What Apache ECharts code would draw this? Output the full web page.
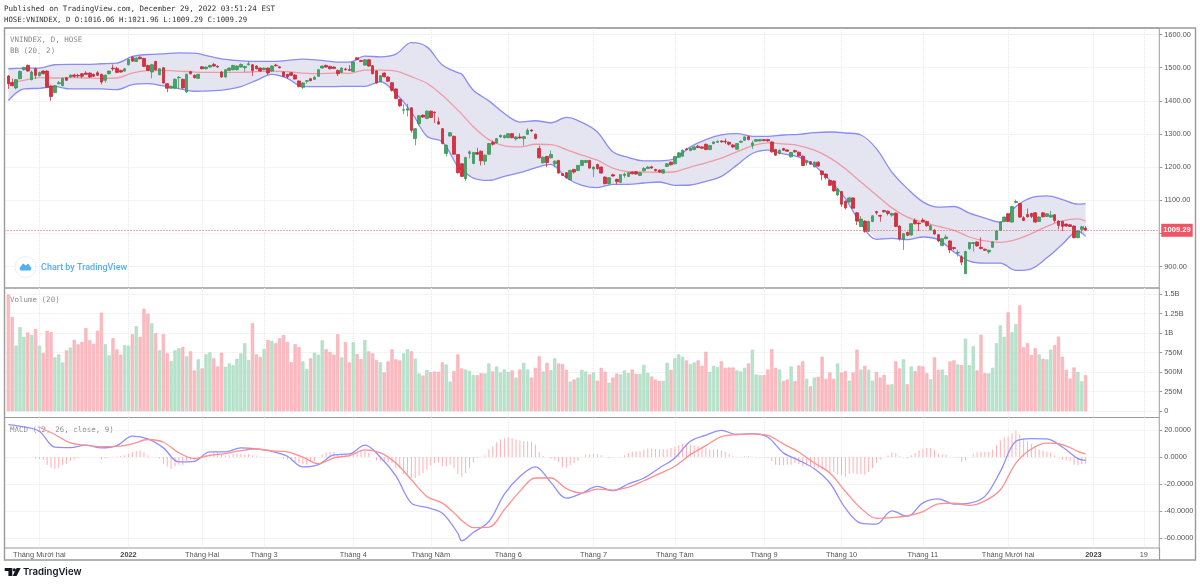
<!DOCTYPE html>
<html>
<head>
<meta charset="utf-8">
<title>VNINDEX</title>
<script src="https://cdn.jsdelivr.net/npm/echarts@6/dist/echarts.min.js"></script>
<style>
html, body { margin: 0; padding: 0; background: #fff; }
#main { width: 1200px; height: 584px; }
</style>
</head>
<body>
<div id="main"></div>
<script>
var opens = [
1475,1455,1439,1467,1494,1507,1464,1497,1476,1490,
1490,1445,1425,1452,1446,1470,1472,1478,1477,1482,
1484,1484,1480,1485,1480,1462,1482,1499,1498,1492,
1490,1509,1532,1519,1532,1528,1507,1487,1519,1479,
1500,1452,1438,1438,1470,1465,1427,1488,1477,1468,
1503,1497,1502,1510,1504,1487,1472,1492,1494,1494,
1502,1500,1509,1509,1505,1499,1494,1499,1490,1508,
1503,1487,1480,1485,1478,1460,1441,1459,1467,1465,
1474,1499,1507,1504,1502,1492,1486,1496,1495,1489,
1530,1522,1508,1524,1506,1490,1458,1484,1472,1455,
1436,1404,1372,1372,1379,1286,1331,1357,1347,1369,
1366,1337,1316,1241,1294,1293,1238,1210,1165,1241,
1211,1244,1248,1218,1239,1275,1273,1291,1289,1289,
1301,1285,1291,1286,1299,1312,1299,1256,1213,1232,
1228,1210,1220,1180,1183,1162,1193,1190,1205,1214,
1220,1194,1208,1200,1170,1150,1177,1163,1154,1175,
1172,1185,1186,1175,1189,1196,1201,1193,1191,1182,
1202,1215,1210,1230,1233,1255,1250,1253,1263,1261,
1269,1253,1271,1275,1279,1278,1275,1267,1254,1275,
1281,1292,1266,1278,1279,1283,1283,1276,1253,1241,
1256,1252,1231,1250,1245,1233,1213,1216,1201,1215,
1188,1179,1160,1158,1116,1126,1097,1095,1107,1062,
1021,1037,1006,1036,1066,1054,1069,1067,1055,1061,
1022,982,1003,995,1039,1031,1040,1036,1011,1010,
996,963,984,977,957,941,929,878,954,969,
974,958,952,944,958,981,1009,1036,1059,1034,
1093,1090,1047,1057,1060,1062,1036,1062,1051,1049,
1056,1037,1036,1028,1026,1022,987,1012,1016.06
];
var closes = [
1452,1446,1464,1489,1501,1490,1487,1477,1486,1482,
1441,1413,1446,1455,1468,1462,1478,1474,1475,1474,
1480,1472,1474,1477,1457,1477,1490,1497,1486,1487,
1497,1525,1520,1529,1527,1504,1492,1509,1494,1497,
1454,1438,1444,1465,1471,1439,1480,1482,1470,1480,
1497,1502,1507,1505,1502,1472,1494,1499,1507,1505,
1510,1504,1512,1492,1497,1490,1499,1484,1505,1506,
1500,1474,1472,1477,1466,1443,1454,1461,1461,1471,
1494,1505,1502,1497,1498,1482,1499,1494,1492,1517,
1525,1519,1524,1505,1482,1454,1476,1473,1459,1432,
1407,1385,1373,1376,1311,1316,1355,1351,1369,1350,
1364,1330,1271,1266,1304,1239,1183,1172,1229,1246,
1244,1239,1219,1236,1271,1269,1286,1296,1295,1301,
1289,1291,1288,1292,1311,1309,1286,1228,1230,1214,
1238,1218,1182,1175,1168,1190,1185,1205,1220,1220,
1197,1200,1195,1182,1150,1168,1173,1156,1177,1179,
1183,1180,1179,1183,1196,1200,1197,1189,1185,1192,
1210,1207,1232,1243,1251,1253,1257,1261,1259,1257,
1253,1265,1276,1278,1276,1276,1269,1261,1271,1278,
1291,1283,1273,1283,1283,1280,1279,1246,1236,1251,
1251,1248,1244,1246,1234,1205,1219,1209,1215,1203,
1177,1168,1145,1128,1134,1088,1077,1107,1076,1037,
1043,1006,1036,1053,1062,1052,1065,1060,1060,1021,
984,999,994,1029,1029,1029,1035,1023,1023,998,
977,984,989,950,954,942,913,945,972,972,
962,954,949,949,974,1007,1034,1049,1036,1081,
1096,1049,1039,1050,1051,1034,1049,1050,1059,1055,
1039,1024,1021,1022,1021,987,1007,1020,1009.29
];
var highs = [
1478,1467,1466,1492,1503,1510,1492,1500,1488,1492,
1492,1447,1448,1460,1470,1472,1480,1482,1482,1484,
1490,1486,1482,1490,1482,1480,1491,1510,1503,1494,
1499,1528,1534,1532,1535,1530,1509,1512,1521,1499,
1502,1454,1446,1468,1475,1467,1482,1491,1480,1482,
1505,1504,1509,1515,1508,1490,1496,1501,1509,1507,
1513,1506,1520,1511,1507,1501,1501,1501,1507,1512,
1505,1489,1482,1487,1480,1462,1456,1463,1469,1476,
1496,1507,1510,1506,1504,1495,1501,1500,1508,1519,
1532,1524,1526,1526,1508,1492,1478,1486,1474,1457,
1438,1406,1390,1391,1381,1318,1357,1359,1371,1371,
1368,1350,1318,1268,1306,1295,1240,1212,1231,1250,
1246,1258,1250,1238,1273,1280,1288,1298,1298,1303,
1303,1293,1302,1294,1317,1314,1301,1265,1232,1234,
1250,1220,1222,1182,1185,1192,1195,1207,1222,1222,
1222,1202,1210,1202,1172,1170,1180,1165,1179,1183,
1185,1187,1188,1185,1200,1203,1204,1195,1193,1194,
1212,1217,1234,1245,1253,1258,1259,1263,1267,1263,
1271,1267,1278,1280,1281,1286,1277,1269,1273,1280,
1293,1294,1280,1285,1285,1285,1285,1278,1255,1253,
1258,1254,1246,1252,1247,1235,1221,1218,1217,1217,
1190,1181,1162,1160,1137,1128,1099,1110,1109,1064,
1052,1039,1038,1055,1068,1056,1071,1069,1062,1063,
1024,1001,1005,1031,1045,1033,1046,1038,1027,1012,
998,986,996,979,959,950,934,947,974,974,
976,988,954,951,976,1009,1036,1051,1061,1083,
1102,1092,1052,1075,1062,1064,1051,1064,1061,1068,
1058,1039,1038,1030,1028,1024,1009,1022,1021.96
];
var lows = [
1436,1444,1435,1465,1492,1488,1462,1467,1474,1480,
1440,1400,1423,1450,1444,1460,1470,1470,1470,1468,
1478,1470,1472,1475,1450,1455,1480,1490,1484,1485,
1488,1507,1518,1517,1525,1502,1490,1468,1492,1477,
1452,1426,1436,1436,1437,1437,1424,1480,1468,1466,
1495,1495,1500,1503,1500,1470,1470,1490,1492,1492,
1500,1488,1507,1475,1495,1488,1492,1478,1488,1504,
1498,1472,1466,1475,1464,1441,1436,1452,1459,1463,
1472,1497,1500,1495,1496,1475,1484,1492,1490,1487,
1523,1517,1506,1503,1480,1452,1456,1471,1457,1428,
1405,1382,1360,1353,1304,1266,1325,1349,1345,1348,
1333,1328,1269,1232,1292,1237,1181,1170,1158,1226,
1209,1237,1205,1206,1237,1265,1271,1289,1286,1287,
1287,1280,1286,1265,1297,1307,1284,1226,1211,1200,
1226,1200,1180,1173,1166,1160,1180,1188,1203,1212,
1195,1170,1193,1180,1148,1148,1171,1148,1152,1168,
1170,1178,1177,1173,1187,1194,1195,1187,1183,1180,
1200,1205,1208,1228,1231,1251,1248,1251,1257,1255,
1251,1251,1269,1273,1274,1270,1265,1257,1252,1273,
1279,1281,1255,1276,1277,1278,1277,1244,1234,1238,
1249,1246,1229,1244,1232,1203,1205,1207,1199,1201,
1160,1162,1143,1126,1112,1080,1072,1093,1074,1025,
1019,1002,1004,1034,1056,1035,1063,1054,1050,1019,
978,950,992,993,1027,1007,1033,1020,1009,996,
973,961,982,940,950,930,904,878,950,945,
960,952,947,938,956,979,1007,1034,1034,1032,
1091,1047,1037,1048,1046,1032,1034,1048,1049,1047,
1032,1012,1007,1020,1019,985,985,1000,1009.29
];
var volumes = [
1496,1207,840,1078,953,1009,978,1052,840,746,
1030,1013,690,728,625,780,815,914,858,888,
1065,909,862,1030,1263,858,715,935,793,724,
845,840,987,1090,953,1315,1250,1129,1000,780,
987,741,642,780,806,823,703,767,522,664,
547,728,754,677,573,750,569,612,590,672,
741,871,655,1129,728,694,797,914,901,871,
935,978,888,629,858,819,638,539,677,750,
724,909,793,759,724,987,690,884,625,884,
733,668,914,767,741,655,629,496,638,793,
664,651,741,793,767,672,483,457,530,500,
509,504,625,599,379,513,728,547,534,517,
461,461,487,483,612,509,573,496,534,504,
522,431,534,621,534,431,556,703,509,621,
526,677,612,603,530,379,405,431,530,509,
470,496,392,556,504,366,431,483,470,522,
487,534,478,478,595,491,444,405,388,388,
621,530,677,728,698,651,603,625,651,582,
763,504,582,565,638,556,560,560,522,509,
556,612,789,470,461,461,534,793,556,534,
388,405,573,384,586,638,414,319,431,440,
698,414,496,414,612,496,513,392,496,789,
534,582,530,392,504,431,465,340,345,638,
547,664,345,573,513,582,573,487,409,690,
530,534,461,638,651,599,590,931,590,832,
522,978,487,483,556,871,1099,953,1267,1013,
1116,1358,819,871,720,806,728,672,664,789,
845,957,698,530,418,560,504,384,461
];
var histogram = [
null,null,null,null,null,null,null,
-1,-1.5,-2,-6,-8,-8.7,-8,-6,-5,-3,
-1.7,-.7,-.3,0,0,0,0,-1.7,-1,-.5,
.2,.5,.7,1.2,2.2,3.7,4.2,4.7,3.5,1.2,
0,0,-1.2,-5.2,-7,-9,-7,-5.7,-6.4,-3.2,
-2,-2,-.7,.5,1.2,2.2,3.5,3.7,1.7,1.2,
1.2,2.2,2.5,2.2,1.7,2.2,1,.5,.2,-.2,
0,-.2,0,0,-1.2,-2,-3.2,-4,-4.5,-5.2,
-5.7,-3.2,-3.2,-.2,1.7,3.2,3.7,3.7,2.2,2.2,
1.7,2.2,2.7,3.7,4.7,4.7,3,0,-2.7,-3.2,
-3.2,-3.7,-4.5,-8.2,
-8.2,-12.6,-13,-15.6,-15.6,-13.9,-11.9,-9.4,-6.2,-4.5,
-3.7,-6.9,-6.9,-5.7,-8.2,-12.6,-14.9,-11.9,-8.2,-4,
-.7,.2,1.2,5.5,7.9,10.9,12.9,13.6,14.6,14.1,
12.9,12.1,11.6,11.6,11.2,9.2,3.7,.7,0,-1.2,
-2,-3.7,-7.7,-8.2,-6.2,-4.5,-2.7,0,1.7,2,
2.2,2.2,1.2,0,-.7,-.2,0,.2,1.2,3,
3.7,4.2,4.2,5.5,6.2,6.2,5.9,5.7,5.7,5.7,
6.7,7.4,8.7,9.7,9.7,9.2,8.7,7.9,7.4,6.7,
5.5,5.5,5.5,4.7,3.7,2.2,.5,.2,.2,.5,
.7,.2,-.2,-.5,-.5,-.7,-3.2,-5.7,-6.2,-6.2,
-5.7,-5.7,-4.5,-5.2,
-6.9,-6.4,-7.4,-7.7,-8.2,-9.4,-10.2,-11.2,-11.2,-12.6,
-13.6,-14.4,-12.6,-12.1,-12.6,-12.6,-13.1,-11.2,-8.2,-4.5,
-2,0,1.2,3.5,2.7,.5,-.2,-1.2,1.2,3,
4.7,5.9,6.7,6.7,5,2.2,1.7,1.7,0,-.5,
-.7,-3.7,-2.5,0,2.2,3.7,3.7,3.7,4,5.5,
8.4,12.1,14.6,15.1,17.8,19.6,16.6,13.6,11.6,9.7,
7.2,5.5,4.7,3.7,3,1,0,-2,-2.5,-3.2,
-5.7,-6.2,-5.2,-5
];

var lineBars = [
0,4,8,12,16,20,24,28,32,36,
40,44,48,52,56,60,64,68,72,76,
80,84,88,92,96,100,104,108,112,116,117,
120,124,128,132,136,140,144,148,152,156,
160,164,168,172,176,180,184,188,192,196,
200,204,208,212,216,220,224,228,232,236,
240,244,248,252,256,260,264,268,272,276,278
];
var bbUpper = [
1497,1499,1499,1509,1510,1510,1512,1514,1534,1540,
1542,1545,1544,1534,1525,1521,1519,1519,1522,1526,
1523,1518,1517,1535,1533,1541,1576,1563,1508,1485,1481,
1432,1400,1362,1336,1340,1334,1350,1335,1306,1246,
1229,1219,1219,1226,1261,1283,1297,1301,1293,1293,
1297,1299,1304,1306,1303,1297,1256,1185,1135,1095,
1079,1081,1061,1046,1034,1081,1108,1113,1102,1088,1090
];
var bbMiddle = [
1452,1462,1470,1469,1470,1469,1468,1469,1484,1491,
1492,1490,1487,1486,1486,1486,1488,1490,1488,1484,
1482,1484,1483,1493,1493,1490,1473,1453,1417,1372,1360,
1322,1283,1264,1261,1269,1268,1253,1236,1221,1197,
1186,1185,1184,1186,1200,1213,1227,1246,1264,1273,
1270,1265,1251,1228,1195,1155,1116,1077,1049,1034,
1021,1009,989,977,973,981,999,1021,1038,1044,1037
];
var bbLower = [
1401,1436,1438,1443,1436,1436,1436,1434,1449,1452,
1445,1437,1429,1430,1434,1443,1462,1480,1468,1443,
1443,1443,1444,1444,1458,1422,1367,1293,1276,1201,1192,
1167,1160,1172,1183,1198,1208,1168,1145,1138,1148,
1148,1152,1155,1145,1146,1157,1172,1206,1241,1251,
1240,1230,1205,1160,1105,1029,982,985,981,989,
981,944,916,910,910,888,893,926,967,1007,991
];
var macdLine = [
24,22.3,19,7.2,6.9,8.7,6.7,8.4,15.4,13.4,
6.7,-3.7,-3.2,3.7,3.7,6.7,5.9,4.2,.5,-7.4,
-5.7,1.5,2.2,8.7,-.2,-14,-34.2,-37.4,-41.6,-56.5,-62,
-55.8,-47.8,-27.5,-14.4,-7.4,-18.8,-30.5,-26.8,-21.8,-25,
-20,-15.6,-8.2,-.7,11.6,16.1,19.6,16.6,17.3,14.6,
3,-2.5,-8.7,-19.3,-37.9,-49,-49.8,-39.9,-44,-34,
-31,-34.9,-34.2,-29.2,-10.7,11.6,13.6,13.4,7.4,-1.2,-2.5
];
var signalLine = [
null,null,22,16.6,10.4,8.7,7.7,7.9,9.7,12.9,
10.9,3,-1.2,1.2,2.5,4.7,5.9,4.5,3.7,-.2,
-5,-.7,1,5.2,3,-4.5,-16.9,-29.2,-34.2,-44.1,-47,
-52.3,-52,-39,-25.5,-15.6,-15.6,-23.5,-26.8,-23.8,-24.5,
-22.3,-17.6,-12.4,-6.9,1.7,8.4,15.1,16.6,17.1,15.9,
9.7,3.5,-4.5,-11.9,-25.5,-37.9,-45.4,-44.9,-43.6,-40.4,
-34.7,-34.2,-35.9,-32.5,-24.3,-4.5,5.9,10.2,9.2,4.2,2.2
];

// month marks on the time axis: bar number and text
var monthBars = [8,31,50,66,89,109,129,151,172,195,215,236,258,280,293];
var monthLabels = ['Tháng Mười hai','2022','Tháng Hai','Tháng 3','Tháng 4','Tháng Năm','Tháng 6','Tháng 7','Tháng Tám','Tháng 9','Tháng 10','Tháng 11','Tháng Mười hai','2023','19'];
var priceTicks = [900,1000,1100,1200,1300,1400,1500,1600];
var volumeTicks = [0,250,500,750,1000,1250,1500];
var volumeLabels = ['0','250M','500M','750M','1B','1.25B','1.5B'];
var macdTicks = [-60,-40,-20,0,20];

// one empty slot before the first bar, the rest of the slots run past the last bar
var BAR_SLOTS = 299;
var LEAD = 1;
var FONT = '"Liberation Sans", Arial, sans-serif';
var MONO = '"DejaVu Sans Mono", monospace';
var AXIS_COLOR = '#555';
var FRAME = '#9a9a9a';
var GRID_LINE = '#e9e9e9';

var categories = [];
for (var s = 0; s < BAR_SLOTS; s++) categories.push(String(s));
var lastClose = closes[closes.length - 1];

function isMonthSlot(i) { return monthBars.indexOf(i - LEAD) >= 0; }

function linePoints(values) {
    return lineBars.map(function (b, i) { return [b + LEAD, values[i]]; })
        .filter(function (p) { return p[1] !== null; });
}

var candles = [['-', '-', '-', '-']].concat(opens.map(function (o, i) {
    return [o, closes[i], lows[i], highs[i]];
}));

var volumeBars = ['-'].concat(volumes.map(function (v, i) {
    var up = closes[i] >= opens[i];
    return { value: v, itemStyle: { color: up ? '#b9e3cc' : '#fbbcc2', borderColor: up ? '#a4d8bd' : '#f8a6ae' } };
}));

function xAxis(gridIndex, withLabels) {
    return {
        type: 'category', gridIndex: gridIndex, data: categories, boundaryGap: false,
        axisLine: { show: false }, axisTick: { show: false },
        axisLabel: {
            show: withLabels, interval: function (i) { return isMonthSlot(i); }, margin: 3,
            color: AXIS_COLOR, fontFamily: FONT, fontSize: 7.4, hideOverlap: false,
            formatter: function (v) {
                var t = monthLabels[monthBars.indexOf(Number(v) - LEAD)];
                return /^20/.test(t) ? '{y|' + t + '}' : t;
            },
            rich: { y: { fontWeight: 'bold', color: '#444', fontFamily: FONT, fontSize: 7.4 } }
        },
        splitLine: { show: true, interval: function (i) { return isMonthSlot(i); }, lineStyle: { color: GRID_LINE, type: 'dotted', width: 1 } }
    };
}

function yAxis(gridIndex, min, max, ticks, fmt) {
    return {
        type: 'value', gridIndex: gridIndex, position: 'right', min: min, max: max, scale: true,
        axisLine: { show: false },
        axisTick: { show: true, length: 3, lineStyle: { color: FRAME }, customValues: ticks },
        axisLabel: { color: AXIS_COLOR, fontFamily: FONT, fontSize: 7.4, margin: 5, formatter: fmt, customValues: ticks },
        splitLine: { show: true, lineStyle: { color: GRID_LINE, type: 'dotted', width: 1 } }
    };
}

function indicatorLine(values, color, xi, z) {
    return {
        type: 'line', xAxisIndex: xi, yAxisIndex: xi, data: linePoints(values), smooth: 0.35,
        showSymbol: false, silent: true, z: z, lineStyle: { color: color, width: 1.3 }
    };
}

function paneText(x, y, text) {
    return { type: 'text', x: x, y: y, style: { text: text, fill: '#8a8a8a', font: '7.5px ' + MONO, textVerticalAlign: 'middle' } };
}

var chart = echarts.init(document.getElementById('main'));
chart.setOption({
    animation: false,
    backgroundColor: '#fff',
    grid: [
        { left: 4.5, top: 28, width: 1154.75, height: 260, show: true, borderColor: FRAME, borderWidth: 1 },
        { left: 4.5, top: 288, width: 1154.75, height: 129.5, show: true, borderColor: FRAME, borderWidth: 1 },
        { left: 4.5, top: 417.5, width: 1154.75, height: 130.5, show: true, borderColor: FRAME, borderWidth: 1 }
    ],
    xAxis: [xAxis(0, false), xAxis(1, false), xAxis(2, true)],
    yAxis: [
        yAxis(0, 835, 1620, priceTicks, function (v) { return v.toFixed(2); }),
        yAxis(1, -81, 1580, volumeTicks, function (v) { return volumeLabels[volumeTicks.indexOf(v)]; }),
        yAxis(2, -67.4, 29.2, macdTicks, function (v) { return v.toFixed(4); })
    ],
    series: [
        {
            type: 'custom', xAxisIndex: 0, yAxisIndex: 0, data: [0], silent: true, z: 1,
            renderItem: function (params, api) {
                var top = linePoints(bbUpper), bottom = linePoints(bbLower).reverse();
                return {
                    type: 'polygon',
                    shape: { points: top.concat(bottom).map(function (p) { return api.coord(p); }) },
                    style: { fill: '#e5e5f1' }
                };
            }
        },
        indicatorLine(bbUpper, '#8b8bf4', 0, 2),
        indicatorLine(bbLower, '#8b8bf4', 0, 2),
        indicatorLine(bbMiddle, '#ee9ba4', 0, 2),
        {
            type: 'candlestick', xAxisIndex: 0, yAxisIndex: 0, data: candles, barWidth: 3.2, z: 3,
            itemStyle: { color: '#46a566', color0: '#de2f3e', borderColor: '#2f8f50', borderColor0: '#c0202e', borderWidth: 0.7 },
            markLine: {
                symbol: 'none', silent: true, animation: false,
                lineStyle: { color: '#e6505f', type: [1, 2], width: 1 },
                label: {
                    position: 'end', distance: 2, color: '#fff', backgroundColor: '#ee5566',
                    fontFamily: FONT, fontSize: 7.6, fontWeight: 'bold', padding: [3, 2, 2, 2],
                    formatter: lastClose.toFixed(2)
                },
                data: [{ yAxis: lastClose }]
            }
        },
        {
            type: 'bar', xAxisIndex: 1, yAxisIndex: 1, data: volumeBars, barWidth: 3.2, silent: true,
            itemStyle: { borderWidth: 0.6 }
        },
        {
            type: 'bar', xAxisIndex: 2, yAxisIndex: 2, data: [null].concat(histogram), barWidth: 1, silent: true,
            itemStyle: { color: '#ffb0b4' }
        },
        indicatorLine(macdLine, '#8f8fff', 2, 3),
        indicatorLine(signalLine, '#ff8f8f', 2, 3)
    ],
    graphic: [
        { type: 'rect', shape: { x: 4.5, y: 28, width: 1191, height: 532 }, style: { fill: 'none', stroke: FRAME, lineWidth: 1.4 }, z: 50, silent: true },
        { type: 'line', shape: { x1: 1159.5, y1: 548, x2: 1159.5, y2: 560 }, style: { stroke: FRAME, lineWidth: 1.2 }, z: 50, silent: true },
        { type: 'text', x: 4, y: 9, style: { text: 'Published on TradingView.com, December 29, 2022 03:51:24 EST', fill: '#333', font: '7.5px ' + MONO, textVerticalAlign: 'middle' } },
        { type: 'text', x: 4, y: 20, style: { text: 'HOSE:VNINDEX, D O:1016.06 H:1021.96 L:1009.29 C:1009.29', fill: '#333', font: '7.35px ' + MONO, textVerticalAlign: 'middle' } },
        paneText(10, 40.5, 'VNINDEX, D, HOSE'),
        paneText(10, 51.5, 'BB (20, 2)'),
        paneText(10, 300, 'Volume (20)'),
        paneText(10, 430, 'MACD (12, 26, close, 9)'),
        { type: 'circle', shape: { cx: 25.5, cy: 267, r: 10.5 }, style: { fill: '#fff', stroke: '#eeeeee', lineWidth: 1 }, z: 40 },
        { type: 'polygon', shape: { points: [[19.5,268],[23,263.5],[26,265.5],[28,263.5],[31.5,268],[30.5,270.5],[20.5,270.5]] }, style: { fill: '#55aef0' }, z: 41 },
        { type: 'text', x: 41, y: 267.5, style: { text: 'Chart by TradingView', fill: '#55aef0', font: '500 9px Roboto, ' + FONT, textVerticalAlign: 'middle' }, z: 41 },
        { type: 'polygon', shape: { points: [[4.7,568],[12.3,568],[12.3,576],[8.4,576],[8.4,571],[4.7,571]] }, style: { fill: '#131722' } },
        { type: 'circle', shape: { cx: 14.3, cy: 569.8, r: 1.6 }, style: { fill: '#131722' } },
        { type: 'polygon', shape: { points: [[16.6,568],[20.7,568],[16.6,576],[12.6,576]] }, style: { fill: '#131722' } },
        { type: 'text', x: 23, y: 572, style: { text: 'TradingView', fill: '#131722', font: '600 9.6px Inter, Roboto, ' + FONT, textVerticalAlign: 'middle' } }
    ]
});
</script>
</body>
</html>
